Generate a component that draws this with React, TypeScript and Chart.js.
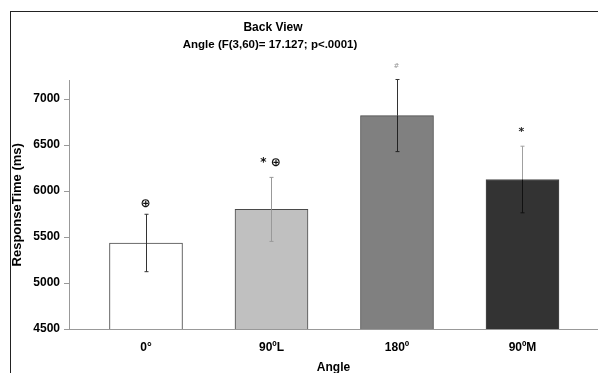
import React, { useEffect, useRef } from "react";
import { Chart, registerables } from "chart.js";

Chart.register(...registerables);

// ---- data ----
const categories = ["0°", "90ºL", "180º", "90ºM"];
const means = [5435, 5800, 6820, 6125];
const errors = [312, 348, 392, 362];
const marks = ["⊕", "* ⊕", "#", "*"];
const yTicks = [4500, 5000, 5500, 6000, 6500, 7000];
const titleLines = ["Back View", "Angle (F(3,60)= 17.127; p<.0001)"];
const yTitle = "ResponseTime (ms)";
const xTitle = "Angle";

// ---- styles ----
const FONT = "'Liberation Sans', Arial, sans-serif";
const barFills = ["#ffffff", "#c0c0c0", "#808080", "#333333"];
const errAbove = ["#333333", "#999999", "#333333", "#a0a0a0"];
const errInside = ["#333333", "#999999", "#222222", "#111111"];
const markColors = ["#111111", "#111111", "#9a9a9a", "#222222"];
const markFonts = [
  "bold 12px 'DejaVu Sans', sans-serif",
  "bold 12px 'DejaVu Sans', sans-serif",
  "7px 'DejaVu Sans', sans-serif",
  "bold 11px 'DejaVu Sans', sans-serif",
];
const markGap = [10, 15, 13, 14];

const decorPlugin = {
  id: "decor",
  afterDatasetsDraw(chart: any) {
    const ctx = chart.ctx;
    const xs = chart.scales.x;
    const ys = chart.scales.y;
    ctx.save();
    means.forEach((m, i) => {
      const x = Math.round(xs.getPixelForValue(i)) + 0.5;
      const yTop = ys.getPixelForValue(m + errors[i]);
      const yBot = ys.getPixelForValue(m - errors[i]);
      const yBar = ys.getPixelForValue(m);
      ctx.lineWidth = 1;
      ctx.strokeStyle = errAbove[i];
      ctx.beginPath();
      ctx.moveTo(x, yTop);
      ctx.lineTo(x, yBar);
      ctx.moveTo(x - 2, yTop);
      ctx.lineTo(x + 2, yTop);
      ctx.stroke();
      ctx.strokeStyle = errInside[i];
      ctx.beginPath();
      ctx.moveTo(x, yBar);
      ctx.lineTo(x, yBot);
      ctx.moveTo(x - 2, yBot);
      ctx.lineTo(x + 2, yBot);
      ctx.stroke();
      ctx.fillStyle = markColors[i];
      ctx.font = markFonts[i];
      ctx.textAlign = "center";
      ctx.textBaseline = "middle";
      ctx.fillText(marks[i], x - 1, yTop - markGap[i]);
    });
    ctx.restore();
  },
  afterDraw(chart: any) {
    const ctx = chart.ctx;
    ctx.save();
    ctx.strokeStyle = "#222222";
    ctx.lineWidth = 1;
    ctx.strokeRect(10.5, 11.5, 800, 600);
    ctx.fillStyle = "#000000";
    ctx.textAlign = "center";
    ctx.textBaseline = "middle";
    ctx.font = `bold 12px ${FONT}`;
    ctx.fillText(titleLines[0], 273, 28);
    ctx.font = `bold 11.5px ${FONT}`;
    ctx.fillText(titleLines[1], 270, 45);
    ctx.restore();
  },
};

export default function App() {
  const ref = useRef<HTMLCanvasElement | null>(null);
  useEffect(() => {
    if (!ref.current) return;
    const chart = new Chart(ref.current, {
      type: "bar",
      data: {
        datasets: [
          {
            data: means.map((y, i) => ({ x: i, y })),
            backgroundColor: barFills,
            borderColor: "#4a4a4a",
            borderWidth: 1,
            barThickness: 73,
          },
        ],
      },
      options: {
        responsive: false,
        animation: false,
        layout: { padding: { top: 80.6, left: 0, right: 0, bottom: 0 } },
        plugins: {
          legend: { display: false },
          tooltip: { enabled: false },
          title: { display: false },
        },
        scales: {
          x: {
            type: "linear",
            offset: false,
            min: -0.6135,
            max: 3.6016,
            afterBuildTicks: (s: any) => {
              s.ticks = categories.map((_, i) => ({ value: i }));
            },
            afterFit: (s: any) => {
              s.height = 44;
            },
            grid: { display: false, drawTicks: false, offset: false },
            border: { display: true, color: "#999999", width: 1 },
            ticks: {
              padding: 11,
              color: "#000000",
              font: { family: FONT, size: 12, weight: "bold" },
              callback: (v: any) => categories[v] ?? "",
              maxRotation: 0,
              autoSkip: false,
            },
            title: {
              display: true,
              text: xTitle,
              color: "#000000",
              font: { family: FONT, size: 12, weight: "bold" },
              padding: { top: 0, bottom: -2 },
            },
          },
          y: {
            min: 4500,
            max: 7200,
            afterBuildTicks: (s: any) => {
              s.ticks = yTicks.map((v) => ({ value: v }));
            },
            afterFit: (s: any) => {
              s.width = 69;
            },
            grid: {
              drawOnChartArea: false,
              drawTicks: true,
              tickLength: 5,
              color: "#999999",
            },
            border: { display: true, color: "#999999", width: 1 },
            ticks: {
              padding: 4,
              color: "#000000",
              font: { family: FONT, size: 12, weight: "bold" },
              callback: (v: any) => String(v),
            },
            title: {
              display: true,
              text: yTitle,
              color: "#000000",
              font: { family: FONT, size: 13, weight: "bold" },
              padding: { top: 10, bottom: 0 },
            },
          },
        },
      },
      plugins: [decorPlugin],
    } as any);
    return () => chart.destroy();
  }, []);
  return (
    <div style={{ position: "fixed", left: 0, top: 0, width: 598, height: 373, background: "#fff" }}>
      <canvas ref={ref} width={598} height={373} style={{ display: "block" }} />
    </div>
  );
}
